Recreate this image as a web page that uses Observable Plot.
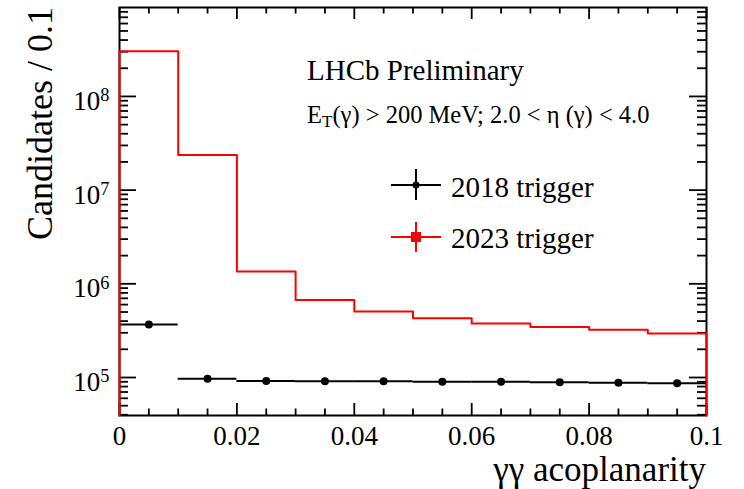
<!DOCTYPE html>
<html><head><meta charset="utf-8">
<script src="https://cdn.jsdelivr.net/npm/d3@7"></script>
<script src="https://cdn.jsdelivr.net/npm/@observablehq/plot@0.6"></script>
<style>body{margin:0;background:#fff} #chart{position:relative;width:744px;height:489px}</style>
</head><body><div id="chart"></div>
<script>
// ---- data ----
const binEdges = [0, 0.01, 0.02, 0.03, 0.04, 0.05, 0.06, 0.07, 0.08, 0.09, 0.1];
const trigger2018 = [3.68e5, 9.7e4, 9.2e4, 9.1e4, 9.1e4, 9.0e4, 9.0e4, 8.9e4, 8.8e4, 8.7e4];
const trigger2023 = [3.04e8, 2.37e7, 1.35e6, 6.7e5, 5.06e5, 4.3e5, 3.77e5, 3.47e5, 3.23e5, 2.95e5];
const xTicks = [0, 0.02, 0.04, 0.06, 0.08, 0.1];
const xTickLabels = ["0", "0.02", "0.04", "0.06", "0.08", "0.1"];
const yDecades = [1e5, 1e6, 1e7, 1e8];
const yExponents = ["5", "6", "7", "8"];
const xDomain = [0, 0.1];
const yDomain = [3.93e4, 8.9e8];
const xMinorStep = 0.005;
const legendLabels = ["2018 trigger", "2023 trigger"];
const title = "LHCb Preliminary";

// ---- layout ----
const W = 744, H = 489, mL = 119, mR = 38, mT = 7, mB = 74;
const fw = W - mL - mR, fh = H - mT - mB;
const RED = "#ff0000";

// derived tables
const blackRows = trigger2018.map((v, i) => ({x1: binEdges[i], x2: binEdges[i + 1], xc: (binEdges[i] + binEdges[i + 1]) / 2, y: v}));
const redPath = [{x: binEdges[0], y: yDomain[0]}];
trigger2023.forEach((v, i) => { redPath.push({x: binEdges[i], y: v}); redPath.push({x: binEdges[i + 1], y: v}); });
redPath.push({x: binEdges[binEdges.length - 1], y: yDomain[0]});

const xMinor = d3.range(0, Math.round((xDomain[1] - xDomain[0]) / xMinorStep) + 1)
  .map(i => +(xDomain[0] + i * xMinorStep).toFixed(4))
  .filter(v => !xTicks.some(t => Math.abs(t - v) < 1e-9));
const yMinor = [];
for (let e = 4; e <= 8; e++) for (let m = 2; m <= 9; m++) {
  const v = m * Math.pow(10, e);
  if (v >= yDomain[0] && v <= yDomain[1]) yMinor.push(v);
}

const tw = 1.8;
const plot = Plot.plot({
  width: W, height: H,
  marginLeft: mL, marginRight: mR, marginTop: mT, marginBottom: mB,
  style: {fontFamily: "'Liberation Serif', 'DejaVu Serif', serif", fontSize: "27px", background: "white", color: "black", overflow: "visible"},
  x: {domain: xDomain, label: null},
  y: {type: "log", domain: yDomain, label: null},
  marks: [
    Plot.tickY(yDecades, {y: d => d, insetRight: fw - 17, strokeWidth: tw}),
    Plot.tickY(yDecades, {y: d => d, insetLeft: fw - 17, strokeWidth: tw}),
    Plot.tickY(yMinor, {y: d => d, insetRight: fw - 9, strokeWidth: tw}),
    Plot.tickY(yMinor, {y: d => d, insetLeft: fw - 9, strokeWidth: tw}),
    Plot.tickX(xTicks, {x: d => d, insetTop: fh - 12, strokeWidth: tw}),
    Plot.tickX(xTicks, {x: d => d, insetBottom: fh - 12, strokeWidth: tw}),
    Plot.tickX(xMinor, {x: d => d, insetTop: fh - 6.5, strokeWidth: tw}),
    Plot.tickX(xMinor, {x: d => d, insetBottom: fh - 6.5, strokeWidth: tw}),
    Plot.axisX({ticks: xTicks, tickSize: 0, tickPadding: 10, fontSize: 27, tickFormat: d => xTickLabels[xTicks.indexOf(d)]}),
    Plot.axisY({ticks: yDecades, tickSize: 0, tickPadding: 10, fontSize: 27, dy: 5, tickFormat: d => "10^" + yExponents[yDecades.indexOf(d)]}),
    Plot.frame({stroke: "black", strokeWidth: 2}),
    Plot.ruleY(blackRows, {x1: "x1", x2: "x2", y: "y", stroke: "black", strokeWidth: 2}),
    Plot.dot(blackRows, {x: "xc", y: "y", r: 4, fill: "black", stroke: null}),
    Plot.line(redPath, {x: "x", y: "y", stroke: RED, strokeWidth: 2, curve: "linear"})
  ]
});

const svg = d3.select(plot);
svg.selectAll('g[aria-label="y-axis tick label"] text').each(function () {
  const t = this.textContent.split("^");
  const sel = d3.select(this);
  sel.text(null);
  sel.append("tspan").text(t[0]);
  sel.append("tspan").attr("dy", "-0.48em").attr("font-size", "0.68em").text(t[1]);
});

const font = "'Liberation Serif', 'DejaVu Serif', serif";
svg.append("text").attr("x", mL + fw).attr("y", 481).attr("text-anchor", "end")
  .attr("font-family", font).attr("font-size", 35).text("γγ acoplanarity");
svg.append("text").attr("transform", `translate(52,${mT}) rotate(-90)`).attr("text-anchor", "end")
  .attr("font-family", font).attr("font-size", 36).text("Candidates / 0.1");

svg.append("text").attr("x", 307).attr("y", 80).attr("text-anchor", "start").attr("font-family", font).attr("font-size", 29).text(title);
const et = svg.append("text").attr("x", 307).attr("y", 123).attr("text-anchor", "start").attr("font-family", font).attr("font-size", 24.5);
et.append("tspan").text("E");
et.append("tspan").attr("dy", "0.25em").attr("font-size", "0.7em").text("T");
et.append("tspan").attr("dy", "-0.175em").text("(γ) > 200 MeV; 2.0 < η (γ) < 4.0");

const lg = svg.append("g").attr("text-anchor", "start");
lg.append("line").attr("x1", 391).attr("x2", 441).attr("y1", 185).attr("y2", 185).attr("stroke", "black").attr("stroke-width", 2);
lg.append("line").attr("x1", 416).attr("x2", 416).attr("y1", 169).attr("y2", 200).attr("stroke", "black").attr("stroke-width", 2);
lg.append("circle").attr("cx", 416).attr("cy", 185).attr("r", 3.5).attr("fill", "black");
lg.append("text").attr("x", 451).attr("y", 197).attr("font-family", font).attr("font-size", 29).text(legendLabels[0]);
lg.append("line").attr("x1", 391).attr("x2", 441).attr("y1", 237).attr("y2", 237).attr("stroke", RED).attr("stroke-width", 2);
lg.append("line").attr("x1", 416).attr("x2", 416).attr("y1", 222).attr("y2", 252).attr("stroke", RED).attr("stroke-width", 2);
lg.append("rect").attr("x", 411).attr("y", 232).attr("width", 10).attr("height", 10).attr("fill", RED);
lg.append("text").attr("x", 451).attr("y", 248).attr("font-family", font).attr("font-size", 29).text(legendLabels[1]);

document.getElementById("chart").appendChild(plot);
</script>
</body></html>
